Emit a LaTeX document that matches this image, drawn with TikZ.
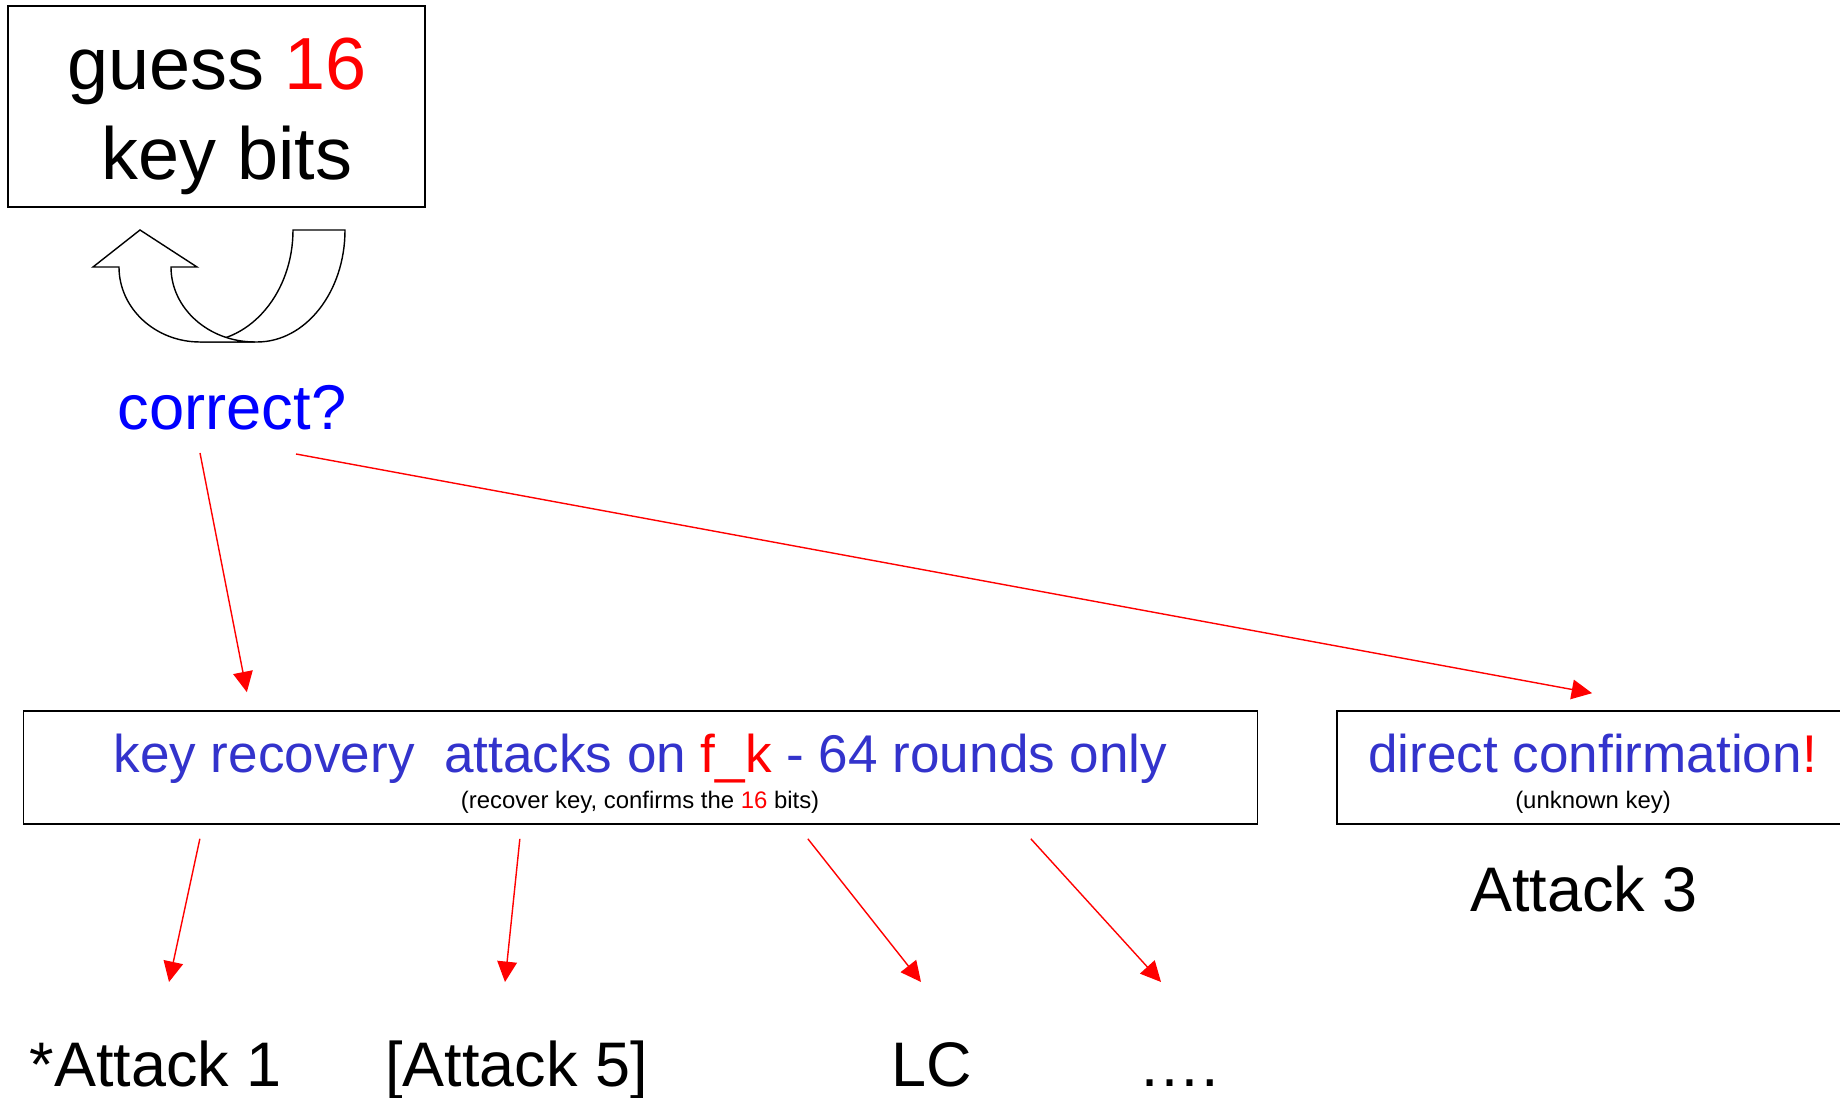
\documentclass[tikz,border=0pt]{standalone}
\usepackage{fontspec}
\setmainfont{Liberation Sans}
\usetikzlibrary{arrows.meta,calc}
\definecolor{txtblue}{RGB}{51,51,204}
\definecolor{pureblue}{RGB}{0,0,255}
\definecolor{arrred}{RGB}{255,0,0}
\begin{document}
\begin{tikzpicture}[x=0.01cm,y=-0.01cm,
  frame/.style={draw=black,line width=0.45pt,inner sep=0pt},
  link/.style={draw=arrred,line width=0.4pt,-{Triangle[length=5.8pt,width=5.6pt]}},
  bigtxt/.style={anchor=base,inner sep=0pt,font=\fontsize{21}{25}\selectfont},
  heading/.style={anchor=base,inner sep=0pt,text=txtblue,font=\fontsize{15.1}{18}\selectfont},
  note/.style={anchor=base,inner sep=0pt,font=\fontsize{6.8}{8}\selectfont},
  attack/.style={anchor=base,inner sep=0pt,font=\fontsize{17.9}{21}\selectfont},
  uturn/.style={draw=black,fill=white,line width=0.4pt,line join=miter}]

\clip (0,0) rectangle (1840,1098);

% guess box
\node[frame, minimum width=4.17cm, minimum height=2.01cm] (guess) at (216.5,106.5) {};
\node[bigtxt] (guessA) at (217,90) {guess \textcolor{arrred}{16}};
\node[bigtxt] (guessB) at (227,180) {key bits};

% U-turn arrow: back band first, then the band carrying the head on top
\path[uturn] (293,230) -- (345,230)
  .. controls (345,291.9) and (305.6,342) .. (257,342)
  -- (200,342)
  .. controls (251.4,342) and (293,291.9) .. (293,230) -- cycle;
\path[uturn] (119,267) -- (93,267) -- (140,230) -- (197,267) -- (171,267)
  .. controls (171,308.4) and (208.6,342) .. (255,342)
  -- (200,342)
  .. controls (155.3,342) and (119,308.4) .. (119,267) -- cycle;

% question
\node[anchor=base, inner sep=0pt, text=pureblue, font=\fontsize{18}{21}\selectfont] (correct) at (232,430) {correct?};

% key recovery box
\node[frame, minimum width=12.33cm, minimum height=1.13cm] (keyrec) at (640.5,767.5) {};
\node[heading] (keyrecT) at (640.5,773) {key recovery \ attacks on \textcolor{arrred}{f\_k} - 64 rounds only};
\node[note] (keyrecS) at (640,808) {(recover key, confirms the \textcolor{arrred}{16} bits)};

% direct confirmation box
\node[frame, minimum width=5.1cm, minimum height=1.13cm] (direct) at (1592,767.5) {};
\node[heading] (directT) at (1592.5,773) {direct confirmation\textcolor{arrred}{!}};
\node[note] (directS) at (1593,808) {(unknown key)};
\node[attack] (atk3) at (1584,911) {Attack 3};

% attack labels
\node[attack] (atk1) at (155.5,1086) {*Attack 1};
\node[attack] (atk5) at (516.5,1086) {[Attack 5]};
\node[attack] (lc) at (932,1086) {LC};
\node[attack] (more) at (1179,1086) {….};

% connectors
\draw[link] ($(correct.base)+(-32,23)$) -- ($(keyrec.north west)+(224,-18)$);
\draw[link] ($(correct.base)+(64,24)$) -- ($(direct.north west)+(256,-17)$);
\draw[link] ($(keyrec.south west)+(177,14)$) -- ($(atk1.base)+(13.5,-104)$);
\draw[link] ($(keyrec.south west)+(497,14)$) -- ($(atk5.base)+(-11.5,-104)$);
\draw[link] ($(keyrec.south west)+(785,14)$) -- ($(lc.base)+(-11,-104)$);
\draw[link] ($(keyrec.south west)+(1008,14)$) -- ($(more.base)+(-18,-104)$);
\end{tikzpicture}
\end{document}
